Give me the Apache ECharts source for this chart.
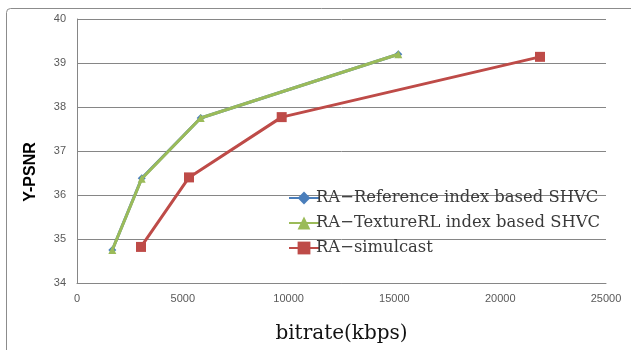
<!DOCTYPE html>
<html>
<head>
<meta charset="utf-8">
<script src="https://cdn.jsdelivr.net/npm/echarts@6/dist/echarts.min.js"></script>
<style>html,body{margin:0;padding:0;background:#fff}#c{width:631px;height:350px}</style>
</head>
<body>
<div id="c"></div>
<script>
var seriesNames = ['RA\u2212Reference index based SHVC', 'RA\u2212TextureRL index based SHVC', 'RA\u2212simulcast'];
var refBitrate = [1668, 3060, 5846, 15184];
var refPsnr = [34.75, 36.38, 37.75, 39.20];
var texBitrate = [1668, 3058, 5846, 15184];
var texPsnr = [34.75, 36.37, 37.75, 39.20];
var simBitrate = [3025, 5293, 9674, 21881];
var simPsnr = [34.82, 36.40, 37.77, 39.14];
var xTicks = [0, 25000, 5000];
var yTicks = [34, 40, 1];

function pairs(xs, ys) { return xs.map(function (x, i) { return [x, ys[i]]; }); }

var chart = echarts.init(document.getElementById('c'), null, {renderer: 'canvas'});
var lbl = {color: '#595959', fontFamily: 'Liberation Sans, Arial, sans-serif', fontSize: 11};
chart.setOption({
  animation: false,
  backgroundColor: '#ffffff',
  graphic: [{
    type: 'rect', left: 4, top: 6, z: -10,
    shape: {width: 700, height: 400, r: 4},
    style: {fill: 'none', stroke: '#8c8c8c', lineWidth: 1}
  }],
  grid: {left: 77, right: 25, top: 19, bottom: 67, containLabel: false},
  xAxis: {
    type: 'value', min: xTicks[0], max: xTicks[1], interval: xTicks[2],
    name: 'bitrate(kbps)', nameLocation: 'middle', nameGap: 41,
    nameTextStyle: {fontFamily: 'DejaVu Serif, serif', fontSize: 20, color: '#111'},
    axisLine: {show: true, lineStyle: {color: '#868686', width: 1}},
    axisTick: {show: false},
    splitLine: {show: false},
    axisLabel: Object.assign({margin: 10, formatter: function (v) { return String(v); }}, lbl)
  },
  yAxis: {
    type: 'value', min: yTicks[0], max: yTicks[1], interval: yTicks[2],
    name: 'Y-PSNR', nameLocation: 'middle', nameGap: 38, nameRotate: 90,
    nameTextStyle: {fontFamily: 'Liberation Sans, Arial, sans-serif', fontSize: 16, fontWeight: 'bold', color: '#000', padding: [0, 0, 0, -42]},
    axisLine: {show: true, lineStyle: {color: '#868686', width: 1}},
    axisTick: {show: false},
    splitLine: {show: true, lineStyle: {color: '#868686', width: 1}},
    axisLabel: Object.assign({margin: 11}, lbl)
  },
  legend: {
    orient: 'vertical', left: 283, top: 185,
    itemWidth: 30, itemHeight: 16, itemGap: 9,
    textStyle: {fontFamily: 'DejaVu Serif, serif', fontSize: 16.4, color: '#3a3a3a', padding: [0, 0, 0, -8]},
    data: seriesNames
  },
  series: [
    {name: seriesNames[0], type: 'line', data: pairs(refBitrate, refPsnr), symbol: 'diamond', symbolSize: 8,
     lineStyle: {color: '#4A7EBB', width: 3}, itemStyle: {color: '#4A7EBB'}, z: 2},
    {name: seriesNames[1], type: 'line', data: pairs(texBitrate, texPsnr), symbol: 'triangle', symbolSize: 8,
     lineStyle: {color: '#9BBB59', width: 3}, itemStyle: {color: '#9BBB59'}, z: 3},
    {name: seriesNames[2], type: 'line', data: pairs(simBitrate, simPsnr), symbol: 'rect', symbolSize: 10,
     lineStyle: {color: '#BE4B48', width: 3}, itemStyle: {color: '#BE4B48'}, z: 4}
  ]
});
</script>
</body>
</html>
